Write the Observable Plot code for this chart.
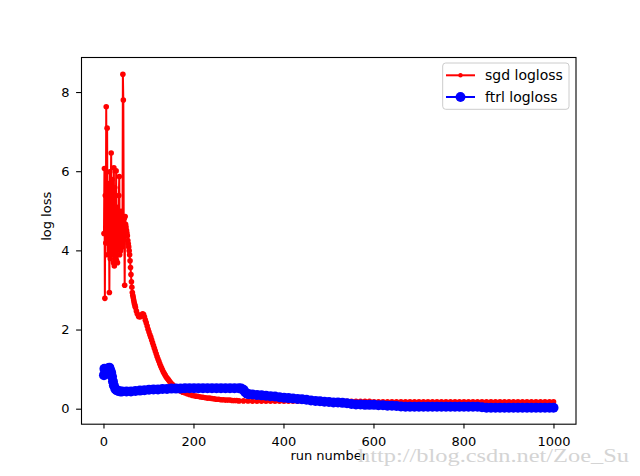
<!DOCTYPE html>
<html><head><meta charset="utf-8">
<script src="https://cdn.jsdelivr.net/npm/d3@7"></script>
<script src="https://cdn.jsdelivr.net/npm/@observablehq/plot@0.6"></script>
<style>body{margin:0;background:#fff}</style>
</head><body><div id="chart"></div>
<script>
const xTicks = [0, 200, 400, 600, 800, 1000];
const yTicks = [0, 2, 4, 6, 8];
const seriesNames = ["sgd logloss", "ftrl logloss"];

const sgdRun = [0,1,2,3,4,5,6,7,8,9,10,11,12,13,14,15,16,17,18,19,20,21,22,23,24,25,26,27,28,29,
  30,31,32,33,34,35,36,37,38,39,40,41,42,43,44,45,46,47,48,49,50,51,52,53,54,55,56,57,58,59,60,
  61,62,63,64,65,66,67,68,69,70,72,74,77,80,83,86,88,90,92,94,96,98,100,102,104,106,108,110,
  112,114,116,118,120,122,124,126,128,130,132,134,136,138,140,142,144,146,148,150,152,154,156,158,160,
  165,170,175,180,185,190,195,200,205,210,215,220,225,230,235,240,245,250,
  255,260,265,270,275,280,285,290,295,300,
  310,320,330,340,350,360,370,380,390,400,410,420,430,440,450,460,470,480,490,500,
  510,520,530,540,550,560,570,580,590,600,610,620,630,640,650,660,670,680,690,700,
  710,720,730,740,750,760,770,780,790,800,810,820,830,840,850,860,870,880,890,900,
  910,920,930,940,950,960,970,980,990,999];
const sgdLoss = [4.44,6.08,2.8,5.4,4.2,7.64,4.6,7.1,3.9,5.7,4.3,5.2,2.95,6.0,3.8,5.5,6.47,3.9,5.8,4.1,
  5.0,3.7,6.1,3.62,5.6,4.3,3.8,6.02,3.75,5.1,3.7,4.8,4.1,5.4,5.88,3.9,4.5,4.0,5.0,4.2,
  4.6,4.1,8.46,7.81,4.42,4.82,3.13,4.87,4.67,4.6,4.52,4.45,4.38,4.26,4.18,4.1,4.0,3.9,3.75,3.58,3.4,
  3.22,3.08,2.95,2.88,2.82,2.76,2.7,2.65,2.61,2.57,2.48,2.41,2.34,2.33,2.38,2.41,2.39,2.33,2.25,2.18,2.1,2.02,1.95,1.88,
  1.82,1.75,1.68,1.61,1.54,1.47,1.40,1.33,1.27,1.21,1.15,1.09,1.04,0.99,0.94,0.9,0.86,0.82,0.79,0.76,
  0.73,0.7,0.67,0.64,0.62,0.6,0.57,0.55,0.53,
  0.49,0.46,0.43,0.41,0.39,0.37,0.35,0.34,0.33,0.32,0.31,0.3,0.29,0.28,0.28,0.27,0.26,0.25,
  0.25,0.24,0.24,0.23,0.23,0.23,0.22,0.22,0.22,0.21,
  0.21,0.21,0.2,0.2,0.2,0.2,0.2,0.2,0.2,0.2,0.2,0.2,0.2,0.2,0.2,0.2,0.2,0.2,0.2,0.2,
  0.2,0.2,0.2,0.2,0.2,0.2,0.2,0.2,0.2,0.19,0.19,0.19,0.19,0.19,0.19,0.19,0.19,0.19,0.19,0.19,
  0.19,0.19,0.19,0.19,0.19,0.19,0.19,0.19,0.19,0.19,0.19,0.19,0.19,0.19,0.19,0.19,0.19,0.19,0.19,0.19,
  0.19,0.19,0.19,0.19,0.19,0.19,0.19,0.19,0.19,0.19];

const ftrlRun = [0,1,3,6,9,12,14,16,18,20,22,25,28,32,36,40,50,60,70,80,90,100,110,120,130,140,150,
  160,170,180,190,200,210,220,230,240,250,260,270,280,290,300,305,310,314,318,322,
  330,340,350,360,370,380,390,400,410,420,430,440,450,460,470,480,490,500,
  510,520,530,540,550,560,570,580,590,600,610,620,630,640,650,660,670,680,690,700,
  710,720,730,740,750,760,770,780,790,800,810,820,830,840,850,860,870,880,890,900,
  910,920,930,940,950,960,970,980,990,999];
const ftrlLoss = [0.86,1.02,0.98,1.0,1.03,1.05,0.98,0.92,0.82,0.7,0.6,0.52,0.48,0.46,0.45,0.45,0.45,0.45,0.46,0.47,0.48,0.49,0.5,0.5,0.51,0.51,0.52,
  0.52,0.52,0.53,0.53,0.53,0.53,0.53,0.53,0.53,0.53,0.53,0.53,0.53,0.53,0.53,0.52,0.49,0.43,0.39,0.38,
  0.37,0.36,0.35,0.34,0.33,0.32,0.3,0.29,0.28,0.27,0.26,0.25,0.24,0.22,0.21,0.2,0.19,0.18,
  0.17,0.17,0.16,0.15,0.13,0.12,0.12,0.11,0.11,0.11,0.1,0.1,0.09,0.09,0.08,0.07,0.06,0.06,0.06,0.06,
  0.06,0.06,0.06,0.06,0.06,0.06,0.06,0.06,0.06,0.06,0.06,0.06,0.06,0.05,0.035,0.035,0.035,0.035,0.035,0.035,
  0.035,0.035,0.035,0.035,0.035,0.035,0.035,0.035,0.035,0.035];

const sgd = sgdRun.map((r, i) => ({run: r, loss: sgdLoss[i]}));
const ftrl = ftrlRun.map((r, i) => ({run: r, loss: ftrlLoss[i]}));

const chart = Plot.plot({
  width: 640, height: 476,
  marginLeft: 81, marginRight: 64.5, marginTop: 57, marginBottom: 52.3,
  style: {fontFamily: "DejaVu Sans", fontSize: "12.7px", background: "white", color: "black"},
  x: {domain: [-49.95, 1048.95]},
  y: {domain: [-0.379, 8.885]},
  marks: [
    Plot.line(sgd, {x: "run", y: "loss", stroke: "red", strokeWidth: 2}),
    Plot.dot(sgd, {x: "run", y: "loss", r: 2.8, fill: "red", stroke: "none"}),
    Plot.line(ftrl, {x: "run", y: "loss", stroke: "blue", strokeWidth: 2}),
    Plot.dot(ftrl, {x: "run", y: "loss", r: 5, fill: "blue", stroke: "none"}),
    Plot.frame({stroke: "black", strokeWidth: 1.1}),
    Plot.axisX({ticks: xTicks, tickSize: 4.9, tickPadding: 7.4, label: null, strokeWidth: 1.1, fontSize: 12.7, tickFormat: d => String(d)}),
    Plot.axisY({ticks: yTicks, tickSize: 4.9, tickPadding: 7.1, label: null, strokeWidth: 1.1, fontSize: 12.7, tickFormat: d => String(d)}),
    Plot.text(["run number"], {text: d => d, frameAnchor: "bottom", dy: 35.8, fontSize: 13, fill: "black"}),
    Plot.text(["log loss"], {text: d => d, frameAnchor: "left", rotate: -90, dx: -34.3, fontSize: 13, fill: "black"})
  ]
});
document.getElementById("chart").append(chart);

const svg = d3.select(chart);
// enforce tick label size
svg.selectAll('g[aria-label="x-axis tick label"], g[aria-label="y-axis tick label"]')
  .attr("font-size", "13px").style("font-size", "13px");
svg.selectAll('g[aria-label="x-axis tick label"] text, g[aria-label="y-axis tick label"] text')
  .attr("font-size", null).style("font-size", "13px");

// legend
const lg = svg.append("g").attr("font-family", "DejaVu Sans").attr("text-anchor", "start").style("font-size", "14px");
lg.append("rect").attr("x", 442.7).attr("y", 63).attr("width", 126.3).attr("height", 46.3)
  .attr("rx", 3).attr("fill", "white").attr("fill-opacity", 0.8).attr("stroke", "#cccccc").attr("stroke-width", 1);
const entries = [
  {name: seriesNames[0], color: "red", r: 2.2, y: 75.3},
  {name: seriesNames[1], color: "blue", r: 4.9, y: 97}
];
for (const e of entries) {
  lg.append("line").attr("x1", 446).attr("x2", 475).attr("y1", e.y).attr("y2", e.y)
    .attr("stroke", e.color).attr("stroke-width", 2);
  lg.append("circle").attr("cx", 460.5).attr("cy", e.y).attr("r", e.r).attr("fill", e.color);
  lg.append("text").attr("x", 485).attr("y", e.y).attr("dy", "0.35em").attr("fill", "black")
    .attr("text-anchor", "start").text(e.name);
}
// watermark
svg.append("text").attr("x", 358).attr("y", 462).attr("font-family", "Liberation Serif")
  .style("font-size", "18px").attr("fill", "#d4d4d4").attr("text-anchor", "start")
  .attr("textLength", 271).attr("lengthAdjust", "spacingAndGlyphs")
  .text("http://blog.csdn.net/Zoe_Su");
</script>
</body></html>
